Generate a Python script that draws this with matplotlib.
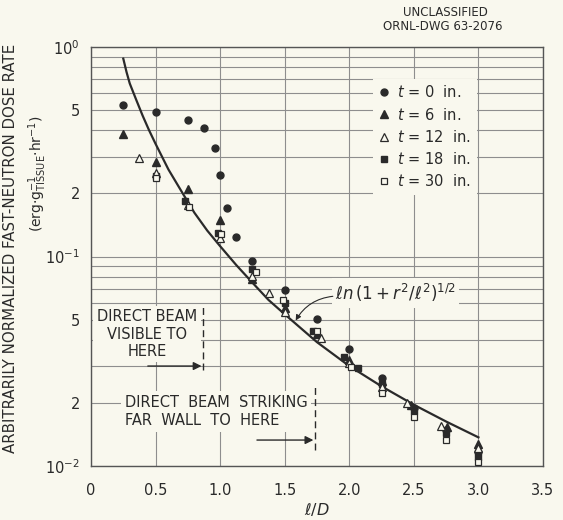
import matplotlib
matplotlib.use("Agg")
import matplotlib.pyplot as plt

BG = "#f9f8ee"
INK = "#2a2a2a"
GRID = "#8e8e8e"

# ---- data (l/D, dose rate) ----
t0_x = [0.25, 0.5, 0.75, 0.875, 0.96, 1.0, 1.05, 1.125, 1.25, 1.5, 1.75, 2.0, 2.25, 2.5, 2.75, 3.0]
t0_y = [0.53, 0.49, 0.45, 0.41, 0.33, 0.244, 0.1695, 0.124, 0.095, 0.069, 0.0505, 0.0363, 0.0262, 0.019, 0.0148, 0.0116]

t6_x = [0.25, 0.5, 0.75, 1.0, 1.25, 1.5, 1.75, 2.0, 2.25, 2.48, 2.76, 3.0]
t6_y = [0.385, 0.282, 0.21, 0.149, 0.078, 0.0566, 0.0425, 0.032, 0.0255, 0.0195, 0.0153, 0.0128]

t12_x = [0.375, 0.5, 0.75, 1.0, 1.25, 1.375, 1.5, 1.78, 2.0, 2.25, 2.45, 2.71, 3.0]
t12_y = [0.295, 0.251, 0.177, 0.1225, 0.081, 0.067, 0.0542, 0.041, 0.031, 0.0238, 0.020, 0.0155, 0.0122]

t18_x = [0.5, 0.73, 0.98, 1.25, 1.5, 1.72, 1.96, 2.07, 2.25, 2.5, 2.75, 3.0]
t18_y = [0.241, 0.184, 0.129, 0.087, 0.060, 0.0443, 0.033, 0.0295, 0.0246, 0.0184, 0.0143, 0.0111]

t30_x = [0.5, 0.76, 1.01, 1.28, 1.49, 1.75, 2.01, 2.25, 2.5, 2.75, 3.0]
t30_y = [0.238, 0.172, 0.128, 0.084, 0.062, 0.044, 0.0298, 0.0224, 0.0172, 0.0133, 0.0105]

curve_x = [0.25, 0.275, 0.3, 0.35, 0.4, 0.45, 0.5, 0.6, 0.7, 0.8, 0.9, 1.0, 1.125, 1.25, 1.375, 1.5,
           1.75, 2.0, 2.25, 2.5, 2.75, 3.0]
curve_y = [0.88, 0.76, 0.67, 0.56, 0.47, 0.40, 0.345, 0.26, 0.205, 0.162, 0.133, 0.112, 0.091, 0.075,
           0.062, 0.053, 0.039, 0.030, 0.024, 0.0196, 0.0163, 0.0137]

series_labels = [r"$t$ = 0  in.", r"$t$ = 6  in.", r"$t$ = 12  in.", r"$t$ = 18  in.", r"$t$ = 30  in."]

xtick_values = [0, 0.5, 1.0, 1.5, 2.0, 2.5, 3.0, 3.5]
xtick_labels = ["0", "0.5", "1.0", "1.5", "2.0", "2.5", "3.0", "3.5"]
ytick_values = [0.01, 0.02, 0.03, 0.04, 0.05, 0.06, 0.07, 0.08, 0.09,
                0.1, 0.2, 0.3, 0.4, 0.5, 0.6, 0.7, 0.8, 0.9, 1.0]
ytick_labels = [r"$10^{-2}$", "2", "", "", "5", "", "", "", "",
                r"$10^{-1}$", "2", "", "", "5", "", "", "", "", r"$10^{0}$"]

limit1_x = 0.866   # direct beam visible
limit2_x = 1.732   # direct beam striking far wall

# ---- figure ----
fig = plt.figure(figsize=(5.63, 5.2), dpi=100, facecolor=BG)
ax = fig.add_axes([91 / 563, 1 - 466 / 520, 452 / 563, 419 / 520])
ax.set_facecolor(BG)
ax.set_yscale("log")
ax.set_xlim(0, 3.5)
ax.set_ylim(0.01, 1.0)
ax.set_xticks(xtick_values)
ax.set_xticklabels(xtick_labels)
ax.set_yticks(ytick_values)
ax.set_yticklabels(ytick_labels)
ax.minorticks_off()
ax.tick_params(length=0, labelsize=10.5, colors=INK, pad=8)
ax.tick_params(axis="x", pad=12)
ax.grid(True, which="major", color=GRID, lw=0.8)
ax.set_axisbelow(True)
for s in ax.spines.values():
    s.set_color("#555555")
    s.set_linewidth(1.0)

# curve
ax.plot(curve_x, curve_y, color=INK, lw=1.6, zorder=3)

ms = 5
ax.plot(t0_x, t0_y, "o", ms=ms, color=INK, mec=INK, zorder=5, label=series_labels[0])
ax.plot(t6_x, t6_y, "^", ms=ms + 0.5, color=INK, mec=INK, zorder=5, label=series_labels[1])
ax.plot(t12_x, t12_y, "^", ms=ms + 0.5, mfc=BG, mec=INK, mew=0.9, zorder=6, label=series_labels[2])
ax.plot(t18_x, t18_y, "s", ms=ms - 0.5, color=INK, mec=INK, zorder=5, label=series_labels[3])
ax.plot(t30_x, t30_y, "s", ms=ms - 0.5, mfc=BG, mec=INK, mew=0.9, zorder=6, label=series_labels[4])

leg = ax.legend(loc="upper left", bbox_to_anchor=(0.607, 0.942), fontsize=10.5,
                handlelength=0.8, handletextpad=0.5, labelspacing=0.42, borderpad=0.4,
                frameon=True, fancybox=False, facecolor=BG, edgecolor="none", framealpha=1)
for txt in leg.get_texts():
    txt.set_color(INK)

# limit lines and arrows
ax.axvline(limit1_x, ymin=0.229, ymax=0.384, color=INK, lw=1.0, ls=(0, (5, 3)), zorder=4)
ax.axvline(limit2_x, ymin=0.038, ymax=0.189, color=INK, lw=1.0, ls=(0, (5, 3)), zorder=4)
ax.annotate("", xy=(limit1_x - 0.01, 0.030), xytext=(0.44, 0.030),
            arrowprops=dict(arrowstyle="-|>", color=INK, lw=1.0, mutation_scale=12,
                            shrinkA=0, shrinkB=0), zorder=4)
ax.annotate("", xy=(limit2_x - 0.01, 0.0133), xytext=(1.285, 0.0133),
            arrowprops=dict(arrowstyle="-|>", color=INK, lw=1.0, mutation_scale=12,
                            shrinkA=0, shrinkB=0), zorder=4)

tb = dict(facecolor=BG, edgecolor="none", pad=2.5)
ax.text(0.124, 0.315, "DIRECT BEAM\nVISIBLE TO\nHERE", transform=ax.transAxes,
        ha="center", va="center", multialignment="center", fontsize=10.5, color=INK,
        linespacing=1.2, bbox=tb, zorder=3)
ax.text(0.075, 0.130, "DIRECT  BEAM  STRIKING\nFAR  WALL  TO  HERE", transform=ax.transAxes,
        ha="left", va="center", multialignment="left", fontsize=10.5, color=INK,
        linespacing=1.3, bbox=tb, zorder=3)

# curve label with arrow
ax.text(0.54, 0.413, r"$\ell n\,(1+r^2/\ell^2)^{1/2}$", transform=ax.transAxes,
        ha="left", va="center", fontsize=12, color=INK, bbox=tb, zorder=3)
ax.annotate("", xy=(1.585, 0.0495), xycoords="data", xytext=(0.535, 0.405),
            textcoords="axes fraction",
            arrowprops=dict(arrowstyle="-|>", color=INK, lw=0.8, mutation_scale=8,
                            connectionstyle="arc3,rad=0.25", shrinkA=0, shrinkB=0), zorder=4)

# axis titles
fig.text(317 / 563, 1 - 510 / 520, r"$\ell/D$", ha="center", va="center", fontsize=11.5, color=INK)
fig.text(11 / 563, 1 - 248 / 520, "ARBITRARILY NORMALIZED FAST-NEUTRON DOSE RATE",
         rotation=90, ha="center", va="center", fontsize=10.8, color=INK)
fig.text(38 / 563, 1 - 174 / 520,
         r"(erg$\cdot$g$^{-1}_{\mathrm{TISSUE}}$$\cdot$hr$^{-1}$)",
         rotation=90, ha="center", va="center", fontsize=10, color=INK)

# drawing stamp
fig.text(445 / 563, 1 - 12 / 520, "UNCLASSIFIED", ha="center", va="center", fontsize=8.5, color=INK)
fig.text(443 / 563, 1 - 26 / 520, "ORNL-DWG 63-2076", ha="center", va="center", fontsize=8.5, color=INK)

fig.savefig("out.png", dpi=100, facecolor=BG)
